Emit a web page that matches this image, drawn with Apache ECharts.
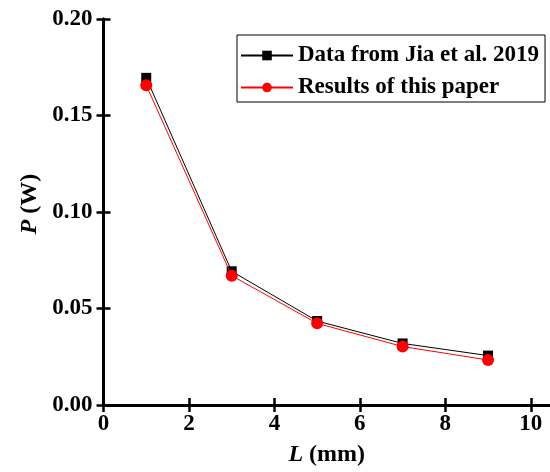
<!DOCTYPE html>
<html>
<head>
<meta charset="utf-8">
<script src="https://cdn.jsdelivr.net/npm/echarts@6/dist/echarts.min.js"></script>
<style>
html,body{margin:0;padding:0;background:#fff;}
#chart{width:550px;height:472px;}
</style>
</head>
<body>
<div id="chart"></div>
<script>
// Data
const L = [1, 3, 5, 7, 9];
const jia = [0.1695, 0.0693, 0.0435, 0.0319, 0.0256];
const paper = [0.1657, 0.0670, 0.0423, 0.0303, 0.0233];
const xTicks = [0, 2, 4, 6, 8, 10];
const yTicks = [0, 0.05, 0.10, 0.15, 0.20];
const seriesNames = ['Data from Jia et al. 2019', 'Results of this paper'];

const FONT = '"Liberation Serif", "Times New Roman", serif';
const chart = echarts.init(document.getElementById('chart'), null, {renderer: 'canvas'});

const axisLine = {show: true, lineStyle: {color: '#000', width: 3}};
const tickStyle = {lineStyle: {color: '#000', width: 2.5}};

const option = {
  animation: false,
  backgroundColor: '#fff',
  grid: {left: 103.5, top: 19, right: -5, bottom: 64, containLabel: false},
  legend: {
    orient: 'vertical',
    left: 237,
    top: 35,
    padding: [9, 6, 3, 3],
    itemGap: 9,
    itemWidth: 52,
    itemHeight: 12,
    borderColor: '#000',
    borderWidth: 1,
    backgroundColor: '#fff',
    textStyle: {fontFamily: FONT, fontWeight: 'bold', fontSize: 23, color: '#000'},
    data: seriesNames
  },
  xAxis: [{
    type: 'value', min: 0, max: 10.45, position: 'bottom',
    name: '{i|L} (mm)', nameLocation: 'middle', nameGap: 38,
    nameTextStyle: {fontFamily: FONT, fontWeight: 'bold', fontSize: 24, color: '#000',
      rich: {i: {fontFamily: FONT, fontWeight: 'bold', fontStyle: 'italic', fontSize: 24, color: '#000'}}},
    axisLine: axisLine,
    axisTick: Object.assign({inside: true, length: 7, customValues: xTicks}, tickStyle),
    axisLabel: {customValues: xTicks, margin: 8, fontFamily: FONT, fontWeight: 'bold', fontSize: 23, color: '#000'},
    splitLine: {show: false}
  }, {
    type: 'value', min: 0, max: 10.45, position: 'top',
    axisLine: axisLine,
    axisTick: Object.assign({inside: true, length: 7, customValues: xTicks}, tickStyle),
    axisLabel: {show: false},
    splitLine: {show: false}
  }],
  yAxis: [{
    type: 'value', min: 0, max: 0.2, interval: 0.05, position: 'left',
    name: '{i|P} (W)', nameLocation: 'middle', nameGap: 62, nameRotate: 90,
    nameTextStyle: {fontFamily: FONT, fontWeight: 'bold', fontSize: 24, color: '#000', padding: [0, 0, 0, 16],
      rich: {i: {fontFamily: FONT, fontWeight: 'bold', fontStyle: 'italic', fontSize: 24, color: '#000'}}},
    axisLine: axisLine,
    axisTick: Object.assign({inside: true, length: 7}, tickStyle),
    axisLabel: {margin: 11, fontFamily: FONT, fontWeight: 'bold', fontSize: 23, color: '#000',
      formatter: v => v.toFixed(2)},
    splitLine: {show: false}
  }, {
    type: 'value', min: 0, max: 0.2, interval: 0.05, position: 'right',
    axisLine: axisLine,
    axisTick: Object.assign({inside: true, length: 7}, tickStyle),
    axisLabel: {show: false},
    splitLine: {show: false}
  }],
  series: [{
    name: seriesNames[0],
    type: 'line',
    data: L.map((x, i) => [x, jia[i]]),
    symbol: 'rect', symbolSize: 10,
    itemStyle: {color: '#000'},
    lineStyle: {color: '#000', width: 1},
    z: 2
  }, {
    name: seriesNames[1],
    type: 'line',
    data: L.map((x, i) => [x, paper[i]]),
    symbol: 'circle', symbolSize: 12,
    itemStyle: {color: '#ff0000'},
    lineStyle: {color: '#ff0000', width: 1},
    z: 3
  }]
};
chart.setOption(option);
</script>
</body>
</html>
